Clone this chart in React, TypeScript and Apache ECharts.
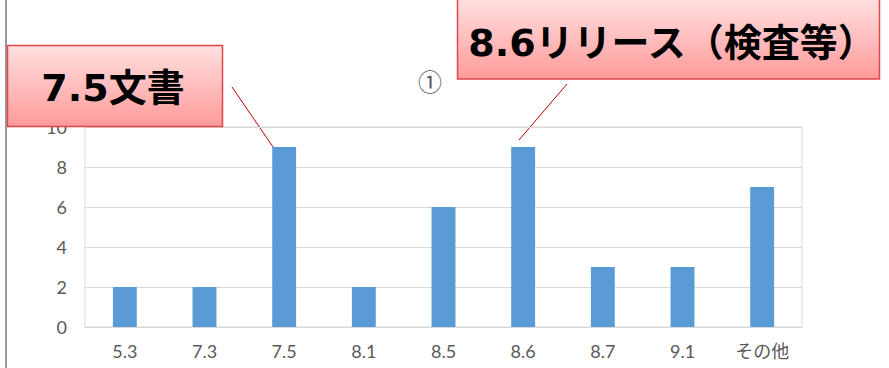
import React, { useEffect, useRef } from "react";
import * as echarts from "echarts";

const categories = ["5.3", "7.3", "7.5", "8.1", "8.5", "8.6", "8.7", "9.1", "その他"];
const counts = [2, 2, 9, 2, 6, 9, 3, 3, 7];
const yTicks = { min: 0, max: 10, interval: 2 };
const calloutLeft = "7.5文書";
const calloutRight = "8.6リリース（検査等）";
const titleMark = "①";

const makePink = () =>
  new echarts.graphic.LinearGradient(0, 0, 0, 1, [
    { offset: 0, color: "#ffe0e0" },
    { offset: 1, color: "#ff9a9a" },
  ]);

const calloutFont = 'Verdana, "DejaVu Sans", "Noto Sans CJK JP", sans-serif';
const axisFont = 'Lato, "Noto Sans CJK JP", sans-serif';

export default function App() {
  const ref = useRef<HTMLDivElement>(null);

  useEffect(() => {
    if (!ref.current) return;
    const chart = echarts.init(ref.current, undefined, { renderer: "svg" });
    chart.setOption({
      animation: false,
      backgroundColor: "#ffffff",
      grid: {
        left: 85,
        right: 87,
        top: 127,
        bottom: 41,
        show: true,
        borderColor: "#d9d9d9",
        borderWidth: 1,
        backgroundColor: "transparent",
      },
      xAxis: {
        type: "category",
        data: categories,
        axisLine: { lineStyle: { color: "#d9d9d9", width: 1 } },
        axisTick: { show: false },
        axisLabel: {
          color: "#595959",
          fontSize: 18,
          margin: 15,
          fontFamily: axisFont,
        },
      },
      yAxis: {
        type: "value",
        min: yTicks.min,
        max: yTicks.max,
        interval: yTicks.interval,
        axisLine: { show: false },
        axisTick: { show: false },
        splitLine: { lineStyle: { color: "#d9d9d9", width: 1 } },
        axisLabel: {
          color: "#595959",
          fontSize: 18,
          margin: 18,
          fontFamily: axisFont,
        },
      },
      series: [
        {
          type: "bar",
          data: counts,
          barWidth: "30%",
          itemStyle: { color: "#5b9bd5" },
        },
      ],
      graphic: [
        {
          type: "line",
          shape: { x1: 6, y1: 0, x2: 6, y2: 368 },
          style: { stroke: "#9a9a9a", lineWidth: 2 },
        },
        {
          type: "text",
          x: 430,
          y: 80,
          style: {
            text: titleMark,
            fill: "#595959",
            fontSize: 24,
            align: "center",
            verticalAlign: "middle",
            fontFamily: '"Noto Sans CJK JP", sans-serif',
          },
        },
        {
          type: "line",
          shape: { x1: 232, y1: 87, x2: 273, y2: 147 },
          style: { stroke: "#c00000", lineWidth: 1 },
        },
        {
          type: "line",
          shape: { x1: 567, y1: 84, x2: 519, y2: 140 },
          style: { stroke: "#c00000", lineWidth: 1 },
        },
        {
          type: "rect",
          shape: { x: 7.5, y: 45.5, width: 215, height: 81 },
          style: { fill: makePink(), stroke: "#e04848", lineWidth: 1.5 },
          z: 100,
        },
        {
          type: "text",
          x: 113,
          y: 88,
          z: 101,
          style: {
            text: calloutLeft,
            fill: "#000000",
            fontSize: 38,
            fontWeight: "bold",
            align: "center",
            verticalAlign: "middle",
            fontFamily: calloutFont,
          },
        },
        {
          type: "rect",
          shape: { x: 457.5, y: -1, width: 422, height: 80 },
          style: { fill: makePink(), stroke: "#e04848", lineWidth: 1.5 },
          z: 100,
        },
        {
          type: "text",
          x: 672,
          y: 43,
          z: 101,
          style: {
            text: calloutRight,
            fill: "#000000",
            fontSize: 38,
            fontWeight: "bold",
            align: "center",
            verticalAlign: "middle",
            fontFamily: calloutFont,
          },
        },
      ],
    });
    return () => chart.dispose();
  }, []);

  return (
    <div
      ref={ref}
      style={{ position: "fixed", left: 0, top: 0, width: 889, height: 368 }}
    />
  );
}
